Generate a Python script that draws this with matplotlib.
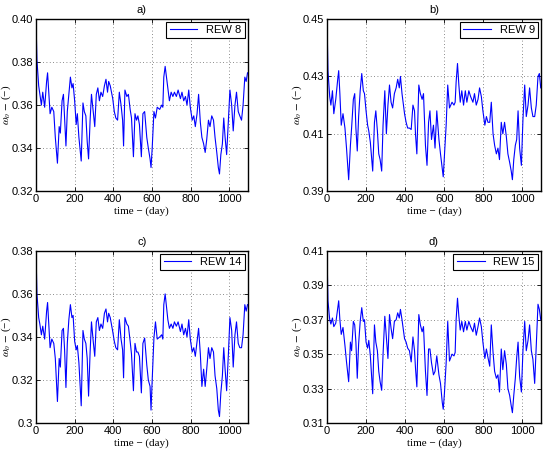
import matplotlib
matplotlib.use("Agg")
import matplotlib.pyplot as plt

# sampling days shared by the four panels
days = [0, 5, 14, 20, 28, 35, 45, 55, 60, 66, 73, 82, 92, 100, 111, 120, 126, 135,
        142, 148, 155, 162, 170, 178, 186, 192, 200, 208, 214, 222, 234, 243, 250,
        258, 265, 272, 280, 287, 296, 304, 312, 320, 328, 336, 345, 354, 362, 370,
        376, 384, 397, 405, 413, 422, 431, 440, 448, 453, 460, 470, 478, 487, 494,
        504, 512, 520, 527, 535, 545, 553, 562, 573, 581, 590, 595, 601, 610, 618,
        627, 640, 650, 656, 661, 668, 675, 682, 690, 699, 708, 716, 726, 735, 747,
        755, 764, 773, 781, 790, 798, 808, 816, 824, 833, 841, 850, 858, 867, 875,
        883, 892, 900, 909, 918, 926, 935, 943, 949, 956, 964, 971, 978, 986, 995,
        1003, 1012, 1020, 1029, 1037, 1046, 1054, 1063, 1071, 1080, 1087, 1094]

rew8 = [0.400, 0.381, 0.369, 0.365, 0.360, 0.366, 0.359, 0.371, 0.375, 0.366, 0.356,
        0.359, 0.357, 0.345, 0.333, 0.350, 0.347, 0.362, 0.365, 0.354, 0.341, 0.357,
        0.365, 0.373, 0.368, 0.370, 0.362, 0.351, 0.356, 0.345, 0.334, 0.361, 0.357,
        0.355, 0.343, 0.335, 0.353, 0.365, 0.357, 0.350, 0.365, 0.368, 0.362, 0.366,
        0.364, 0.369, 0.372, 0.366, 0.371, 0.369, 0.363, 0.357, 0.354, 0.353, 0.366,
        0.360, 0.353, 0.341, 0.367, 0.364, 0.365, 0.358, 0.354, 0.336, 0.356, 0.353,
        0.355, 0.351, 0.336, 0.356, 0.357, 0.345, 0.340, 0.335, 0.331, 0.340, 0.357,
        0.354, 0.359, 0.358, 0.360, 0.359, 0.373, 0.378, 0.373, 0.368, 0.362, 0.366,
        0.364, 0.366, 0.364, 0.367, 0.363, 0.366, 0.362, 0.364, 0.360, 0.367, 0.359,
        0.353, 0.355, 0.350, 0.356, 0.365, 0.352, 0.345, 0.342, 0.338, 0.344, 0.353,
        0.350, 0.355, 0.353, 0.345, 0.338, 0.331, 0.328, 0.337, 0.342, 0.354, 0.345,
        0.337, 0.353, 0.367, 0.360, 0.348, 0.360, 0.366, 0.357, 0.355, 0.353, 0.360,
        0.373, 0.371, 0.375]

rew9 = [0.450, 0.432, 0.423, 0.420, 0.425, 0.417, 0.422, 0.429, 0.432, 0.424, 0.413,
        0.417, 0.412, 0.405, 0.394, 0.406, 0.412, 0.422, 0.424, 0.412, 0.404, 0.416,
        0.425, 0.431, 0.425, 0.424, 0.418, 0.413, 0.411, 0.407, 0.397, 0.414, 0.418,
        0.411, 0.403, 0.401, 0.397, 0.413, 0.425, 0.410, 0.420, 0.427, 0.421, 0.419,
        0.424, 0.426, 0.429, 0.426, 0.430, 0.424, 0.417, 0.414, 0.412, 0.412, 0.4115,
        0.420, 0.418, 0.410, 0.403, 0.427, 0.424, 0.422, 0.424, 0.406, 0.399, 0.414,
        0.418, 0.408, 0.413, 0.405, 0.418, 0.408, 0.403, 0.398, 0.395, 0.402, 0.413,
        0.427, 0.419, 0.421, 0.420, 0.421, 0.428, 0.4345, 0.427, 0.421, 0.425, 0.420,
        0.425, 0.421, 0.425, 0.423, 0.421, 0.424, 0.420, 0.422, 0.426, 0.423, 0.418,
        0.413, 0.416, 0.414, 0.414, 0.421, 0.410, 0.406, 0.403, 0.405, 0.401, 0.414,
        0.410, 0.414, 0.409, 0.403, 0.400, 0.397, 0.394, 0.401, 0.406, 0.408, 0.418,
        0.405, 0.399, 0.415, 0.427, 0.416, 0.420, 0.426, 0.419, 0.416, 0.416, 0.420,
        0.430, 0.431, 0.426]

rew14 = [0.380, 0.360, 0.349, 0.346, 0.341, 0.345, 0.339, 0.352, 0.356, 0.346, 0.335,
         0.339, 0.337, 0.330, 0.310, 0.330, 0.326, 0.343, 0.344, 0.334, 0.3165, 0.337,
         0.348, 0.355, 0.349, 0.350, 0.338, 0.334, 0.336, 0.328, 0.308, 0.343, 0.339,
         0.337, 0.330, 0.3125, 0.333, 0.347, 0.338, 0.331, 0.347, 0.349, 0.343, 0.346,
         0.344, 0.351, 0.353, 0.347, 0.351, 0.349, 0.3425, 0.338, 0.335, 0.334, 0.348,
         0.339, 0.334, 0.321, 0.349, 0.346, 0.345, 0.338, 0.332, 0.315, 0.337, 0.333,
         0.333, 0.331, 0.314, 0.337, 0.3395, 0.327, 0.320, 0.317, 0.306, 0.320, 0.3395,
         0.347, 0.339, 0.340, 0.341, 0.339, 0.355, 0.360, 0.354, 0.348, 0.344, 0.346,
         0.344, 0.347, 0.345, 0.347, 0.3425, 0.346, 0.341, 0.344, 0.340, 0.348, 0.339,
         0.333, 0.335, 0.331, 0.338, 0.344, 0.332, 0.317, 0.325, 0.317, 0.325, 0.335,
         0.330, 0.335, 0.333, 0.322, 0.316, 0.306, 0.303, 0.314, 0.322, 0.335, 0.325,
         0.315, 0.332, 0.349, 0.343, 0.326, 0.341, 0.347, 0.337, 0.335, 0.335, 0.341,
         0.355, 0.352, 0.355]

rew15 = [0.410, 0.381, 0.370, 0.3675, 0.371, 0.366, 0.368, 0.377, 0.381, 0.370, 0.3615,
         0.3655, 0.355, 0.3455, 0.334, 0.357, 0.352, 0.369, 0.367, 0.357, 0.336, 0.356,
         0.369, 0.377, 0.369, 0.370, 0.357, 0.3535, 0.358, 0.349, 0.327, 0.367, 0.357,
         0.352, 0.340, 0.334, 0.329, 0.350, 0.372, 0.360, 0.3475, 0.373, 0.365, 0.359,
         0.369, 0.370, 0.374, 0.371, 0.376, 0.370, 0.359, 0.357, 0.3535, 0.352, 0.3455,
         0.360, 0.352, 0.342, 0.331, 0.373, 0.367, 0.363, 0.366, 0.340, 0.326, 0.353,
         0.353, 0.345, 0.338, 0.340, 0.349, 0.338, 0.333, 0.322, 0.318, 0.327, 0.345,
         0.369, 0.346, 0.350, 0.349, 0.351, 0.370, 0.3825, 0.372, 0.364, 0.369, 0.363,
         0.369, 0.364, 0.369, 0.366, 0.363, 0.368, 0.361, 0.366, 0.371, 0.366, 0.357,
         0.3475, 0.353, 0.348, 0.343, 0.367, 0.351, 0.340, 0.336, 0.338, 0.328, 0.353,
         0.341, 0.352, 0.344, 0.330, 0.326, 0.320, 0.316, 0.326, 0.336, 0.348, 0.357,
         0.337, 0.328, 0.352, 0.369, 0.352, 0.358, 0.367, 0.352, 0.347, 0.333, 0.355,
         0.379, 0.376, 0.370]

panels = [
    ("a)", "REW 8", rew8, (0.32, 0.40), [0.32, 0.34, 0.36, 0.38, 0.40],
     ["0.32", "0.34", "0.36", "0.38", "0.40"]),
    ("b)", "REW 9", rew9, (0.39, 0.45), [0.39, 0.41, 0.43, 0.45],
     ["0.39", "0.41", "0.43", "0.45"]),
    ("c)", "REW 14", rew14, (0.30, 0.38), [0.30, 0.32, 0.34, 0.36, 0.38],
     ["0.3", "0.32", "0.34", "0.36", "0.38"]),
    ("d)", "REW 15", rew15, (0.31, 0.41), [0.31, 0.33, 0.35, 0.37, 0.39, 0.41],
     ["0.31", "0.33", "0.35", "0.37", "0.39", "0.41"]),
]
xticks = [0, 200, 400, 600, 800, 1000]

plt.rcParams["font.family"] = ["Liberation Sans", "DejaVu Sans"]
plt.rcParams["mathtext.fontset"] = "stix"

fig = plt.figure(figsize=(5.5, 4.53), dpi=100)
positions = [
    [0.0654, 0.578, 0.385, 0.380],
    [0.5945, 0.578, 0.389, 0.380],
    [0.0654, 0.0662, 0.385, 0.380],
    [0.5945, 0.0662, 0.389, 0.380],
]

for pos, (title, name, vals, ylim, yt, ytl) in zip(positions, panels):
    ax = fig.add_axes(pos)
    ax.plot(days, vals, color="#0000ff", linewidth=0.8, label=name)
    ax.set_xlim(0, 1095)
    ax.set_ylim(*ylim)
    ax.set_xticks(xticks)
    ax.set_yticks(yt)
    ax.set_yticklabels(ytl)
    ax.tick_params(direction="in", labelsize=8, length=3, top=True, right=True,
                   width=0.6, pad=2)
    ax.grid(True, linestyle=(0, (1, 3)), color="#666666", linewidth=0.6)
    for s in ax.spines.values():
        s.set_linewidth(1.0)
    ax.set_title(title, fontsize=8, pad=4)
    ax.set_xlabel("time − (day)", fontsize=8, family="Liberation Serif", labelpad=2)
    ax.set_ylabel(r"$\omega_o$ $-$ (−)", fontsize=8, family="Liberation Serif")
    # label's right edge sits just left of the tick labels
    ax.yaxis.set_label_coords(-22.5 / (pos[2] * 550), 0.5)
    leg = ax.legend(loc="upper right", fontsize=8, fancybox=False, framealpha=1,
                    edgecolor="black", handlelength=2.5, borderpad=0.3,
                    borderaxespad=0.25)
    leg.get_frame().set_linewidth(0.8)

fig.savefig("out.png", dpi=100)
